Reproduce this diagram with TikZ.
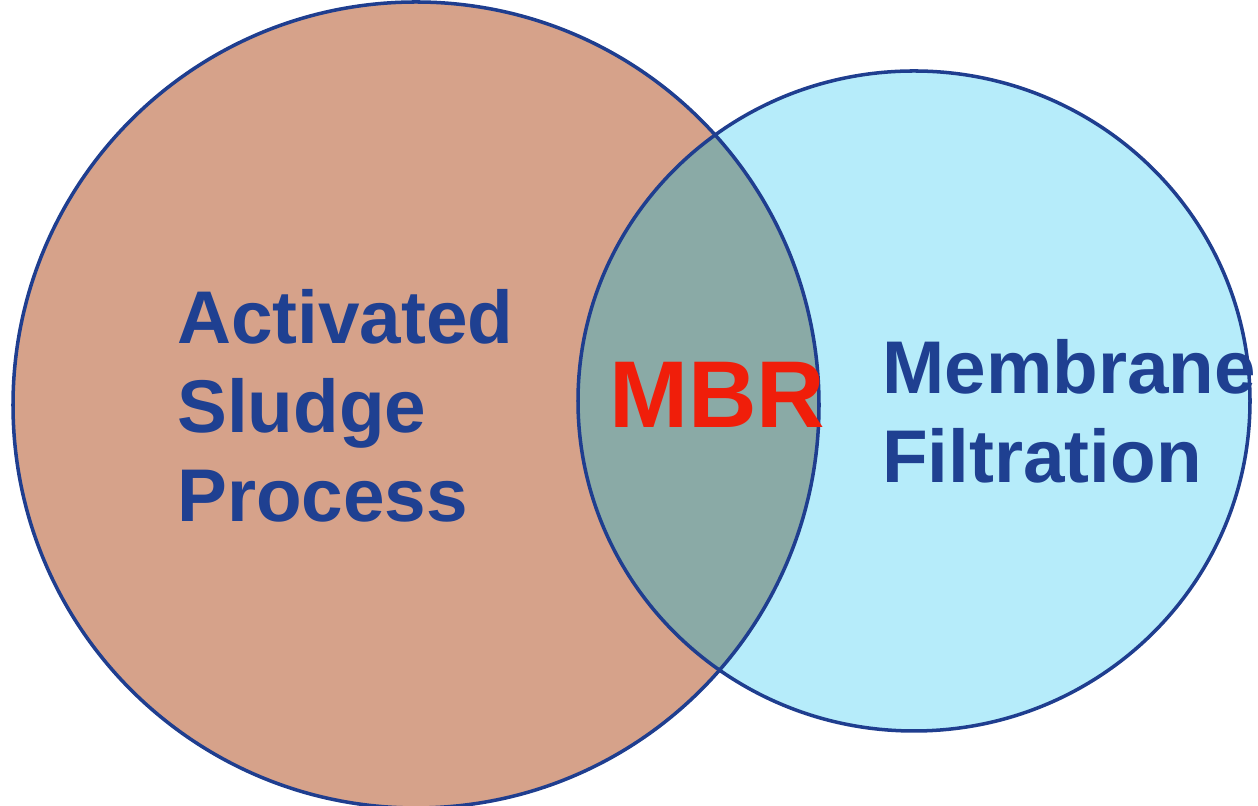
\documentclass[tikz,border=0pt]{standalone}
\usepackage{fontspec}
\setmainfont{Liberation Sans}
\usetikzlibrary{positioning}

\definecolor{sludge}{RGB}{214,162,138}
\definecolor{membr}{RGB}{182,236,250}
\definecolor{overlap}{RGB}{138,170,166}
\definecolor{rim}{RGB}{31,62,143}
\definecolor{labelblue}{RGB}{31,64,145}
\definecolor{mbrred}{RGB}{240,30,10}

\tikzstyle{rand} = [draw=rim, line width=2pt]
\tikzstyle{etichetta} = [inner sep=0pt, align=left, text=labelblue,
font=\fontsize{42.5}{50.9}\selectfont\bfseries]

\begin{document}
\begin{tikzpicture}
\useasboundingbox (0,0) rectangle (25.16,16.12);
% the two sets
\coordinate (cs) at (8.32,8.02);
\coordinate (cm) at (18.28,8.10);
\fill[sludge] (cs) circle (8.06);
\fill[membr] (cm) ellipse (6.72 and 6.60);
\begin{scope}
\clip (cs) circle (8.06);
\fill[overlap] (cm) ellipse (6.72 and 6.60);
\end{scope}
\draw[rand] (cs) circle (8.06);
\draw[rand] (cm) ellipse (6.72 and 6.60);
% labels (base = last line)
\node[etichetta, anchor=base west] (asp) at (3.54,5.68) {Activated\\Sludge\\Process};
\node[etichetta, anchor=base west] (mf) at (17.64,6.46) {Membrane\\Filtration};
\node[inner sep=0pt, anchor=base west, text=mbrred,
font=\fontsize{54}{60}\selectfont\bfseries] (mbr) at (12.18,7.56) {MBR};
\end{tikzpicture}
\end{document}
